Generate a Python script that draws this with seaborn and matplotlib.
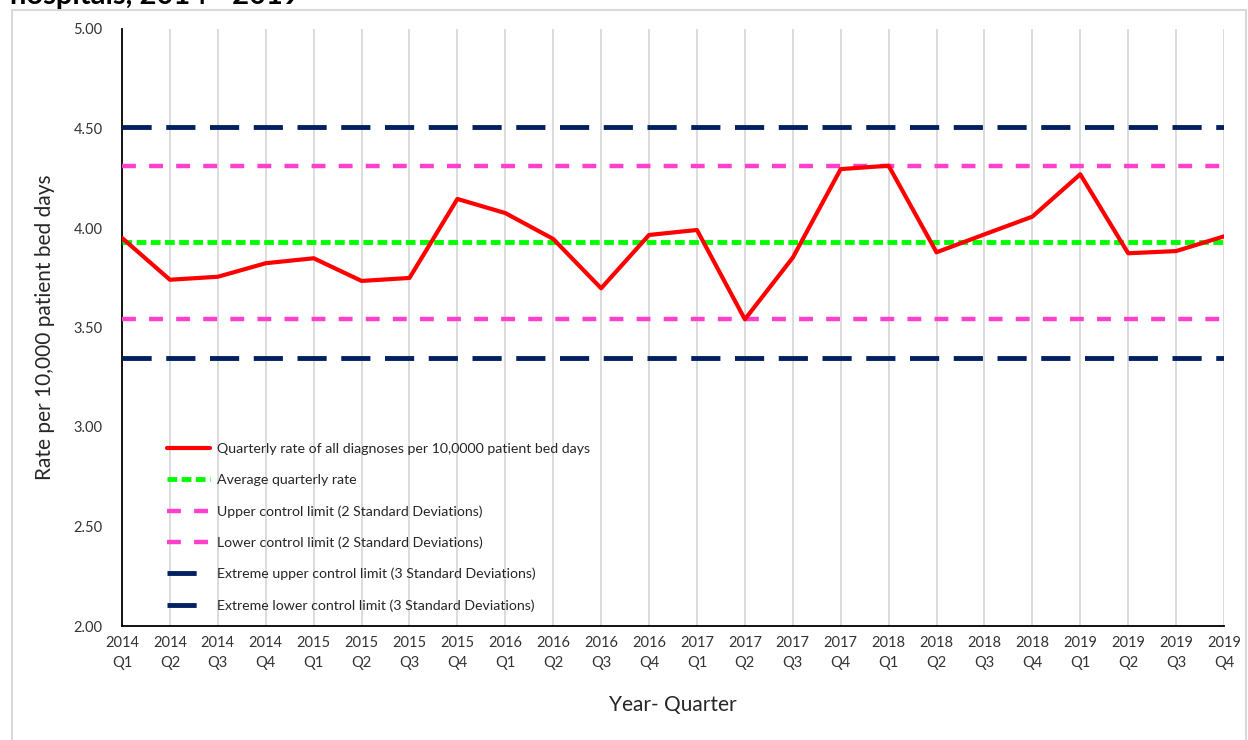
import numpy as np
import pandas as pd
import seaborn as sns
import matplotlib.pyplot as plt
from matplotlib.patches import Rectangle

# quarters and rates
years = ["2014"] * 4 + ["2015"] * 4 + ["2016"] * 4 + ["2017"] * 4 + ["2018"] * 4 + ["2019"] * 4
quarters = ["Q1", "Q2", "Q3", "Q4"] * 6
rates = [3.95, 3.74, 3.755, 3.823, 3.848, 3.734, 3.749, 4.146,
         4.075, 3.945, 3.697, 3.965, 3.99, 3.541, 3.851, 4.296,
         4.313, 3.878, 3.968, 4.057, 4.27, 3.873, 3.884, 3.958]
average = 3.93
ucl_2sd = 4.314
lcl_2sd = 3.542
ucl_3sd = 4.509
lcl_3sd = 3.348

labels = [y + "\n" + q for y, q in zip(years, quarters)]
df = pd.DataFrame({"idx": np.arange(len(rates)), "rate": rates})

sns.set_theme(style="white")
plt.rcParams["font.family"] = ["Lato", "DejaVu Sans"]
plt.rcParams["lines.scale_dashes"] = False

fig = plt.figure(figsize=(12.48, 7.4), dpi=100)
ax = fig.add_axes([122 / 1248, 1 - 626 / 740, 1102 / 1248, 597 / 740])

# outer chart frame and the title that is cut off at the top
fig.patches.append(Rectangle((12 / 1248, -0.02), 1234 / 1248, 1.02 - 10 / 740,
                             transform=fig.transFigure, fill=False,
                             edgecolor="#d9d9d9", lw=1.5, zorder=0))
fig.text(10 / 1248, 1 - 4 / 740, "hospitals, 2014 - 2019", fontsize=21,
         fontweight="bold", va="baseline", ha="left", color="black")

sns.lineplot(data=df, x="idx", y="rate", ax=ax, color="#ff0000", lw=3,
             label="Quarterly rate of all diagnoses per 10,0000 patient bed days", zorder=5)
ax.axhline(average, color="#00ff00", lw=3.5, dashes=(7, 3.2),
           label="Average quarterly rate", zorder=4)
ax.axhline(ucl_2sd, color="#ff40cc", lw=3.2, dashes=(10, 9.5),
           label="Upper control limit (2 Standard Deviations)", zorder=3)
ax.axhline(lcl_2sd, color="#ff40cc", lw=3.2, dashes=(10, 9.5),
           label="Lower control limit (2 Standard Deviations)", zorder=3)
ax.axhline(ucl_3sd, color="#002060", lw=3.5, dashes=(21, 10.5),
           label="Extreme upper control limit (3 Standard Deviations)", zorder=3)
ax.axhline(lcl_3sd, color="#002060", lw=3.5, dashes=(21, 10.5),
           label="Extreme lower control limit (3 Standard Deviations)", zorder=3)

ax.set_xlim(0, len(rates) - 1)
ax.set_ylim(2, 5)
ax.set_xticks(df["idx"])
ax.set_xticklabels(labels, fontsize=10.5, color="#333333", linespacing=1.5)
ax.set_yticks(np.arange(2, 5.01, 0.5))
ax.set_yticklabels([f"{v:.2f}" for v in np.arange(2, 5.01, 0.5)], fontsize=10.5, color="#333333")
ax.tick_params(axis="x", direction="inout", length=9, width=1.2, color="black", pad=3)
ax.tick_params(axis="y", direction="out", length=6, width=1.2, color="black", pad=8)
ax.xaxis.grid(True, color="#d9d9d9", lw=1.3)
ax.yaxis.grid(False)
for s in ["top", "right"]:
    ax.spines[s].set_visible(False)
for s in ["left", "bottom"]:
    ax.spines[s].set_color("black")
    ax.spines[s].set_linewidth(1.3)

ax.set_xlabel("Year- Quarter", fontsize=15, labelpad=18)
ax.set_ylabel("Rate per 10,000 patient bed days", fontsize=15, labelpad=13)

leg = ax.legend(loc="upper left", bbox_to_anchor=(0.041, 0.306), frameon=False,
                fontsize=10.2, handlelength=3.05, handletextpad=0.5, labelspacing=1.33,
                borderpad=0, borderaxespad=0)

plt.savefig("out.png", dpi=100)
